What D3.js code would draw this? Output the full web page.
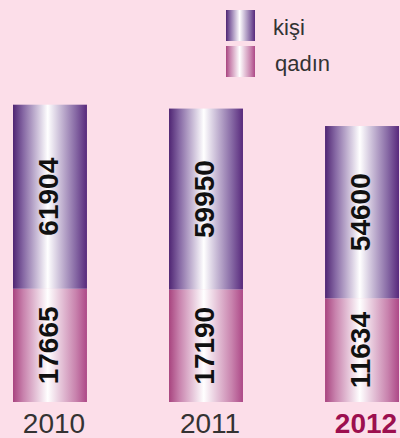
<!DOCTYPE html>
<html>
<head>
<meta charset="utf-8">
<style>
body {
  margin: 0;
  background: #fcdee9;
  font-family: Arial, "Liberation Sans", Helvetica, sans-serif;
}
svg { display: block; }
.val {
  font-weight: bold;
  font-size: 28px;
  fill: #111;
}
.year {
  font-size: 28px;
  fill: #333;
}
.legend text {
  font-size: 22px;
  fill: #333;
}
</style>
<script src="https://cdn.jsdelivr.net/npm/d3@7"></script>
</head>
<body>
<script>
var years = ["2010", "2011", "2012"];
var qadin = [17665, 17190, 11634];
var kisi = [61904, 59950, 54600];
var seriesNames = ["kişi", "qadın"];
var highlightYear = "2012";

var width = 400, height = 438;
var base = 402;

var svg = d3.select("body").append("svg")
  .attr("width", width)
  .attr("height", height);

// horizontal "cylinder" gradients
var defs = svg.append("defs");
function grad(id, edgeL, mid, edgeR) {
  var g = defs.append("linearGradient").attr("id", id)
    .attr("x1", "0%").attr("x2", "100%").attr("y1", "0%").attr("y2", "0%");
  [[0, edgeL], [0.14, mid], [0.47, "#ffffff"], [0.85, mid], [1, edgeR]].forEach(function(s) {
    g.append("stop").attr("offset", s[0]).attr("stop-color", s[1]);
  });
}
grad("gKisi", "#4f2573", "#8668a4", "#58297c");
grad("gQadin", "#a8447f", "#c882ad", "#ad4887");

var color = d3.scaleOrdinal().domain(seriesNames).range(["url(#gKisi)", "url(#gQadin)"]);

var x = d3.scaleBand().domain(years).range([13, 399]).paddingInner(0.526).paddingOuter(0);

// segment length scale (the original is drawn decoratively, not to zero)
var h = d3.scaleLinear().domain([0, 70000]).range([85, 197]);

var data = years.map(function(y, i) { return { year: y, q: qadin[i], k: kisi[i] }; });

var bars = svg.append("g").selectAll("g")
  .data(data)
  .enter().append("g")
  .attr("transform", function(d) { return "translate(" + x(d.year) + ",0)"; });

// qadın (bottom)
bars.append("rect")
  .attr("x", 0)
  .attr("width", x.bandwidth())
  .attr("y", function(d) { return base - h(d.q); })
  .attr("height", function(d) { return h(d.q); })
  .attr("fill", color("qadın"));

// kişi (top)
bars.append("rect")
  .attr("x", 0)
  .attr("width", x.bandwidth())
  .attr("y", function(d) { return base - h(d.q) - h(d.k); })
  .attr("height", function(d) { return h(d.k); })
  .attr("fill", color("kişi"));

function vlabel(sel, yc, val) {
  sel.append("text")
    .attr("class", "val")
    .attr("text-anchor", "middle")
    .attr("transform", function(d) {
      return "translate(" + (x.bandwidth() / 2 - 2) + "," + yc(d) + ") rotate(-90)";
    })
    .attr("dy", "0.36em")
    .text(val);
}
vlabel(bars, function(d) { return base - h(d.q) / 2; }, function(d) { return d.q; });
vlabel(bars, function(d) { return base - h(d.q) - h(d.k) / 2; }, function(d) { return d.k; });

// year labels
svg.append("g").selectAll("text")
  .data(years)
  .enter().append("text")
  .attr("class", "year")
  .attr("text-anchor", "middle")
  .attr("x", function(d) { return x(d) + x.bandwidth() / 2 + 4; })
  .attr("y", 433)
  .style("font-weight", function(d) { return d === highlightYear ? "bold" : "normal"; })
  .style("fill", function(d) { return d === highlightYear ? "#9c0f4f" : "#333"; })
  .text(function(d) { return d; });

// legend
var legend = svg.append("g").attr("class", "legend")
  .selectAll("g")
  .data(seriesNames)
  .enter().append("g")
  .attr("transform", function(d, i) { return "translate(226," + (10 + i * 36) + ")"; });

legend.append("rect")
  .attr("width", 29)
  .attr("height", 31)
  .attr("fill", function(d) { return color(d); });

legend.append("text")
  .attr("x", function(d, i) { return i ? 49 : 47; })
  .attr("y", 25)
  .text(function(d) { return d; });
</script>
</body>
</html>
